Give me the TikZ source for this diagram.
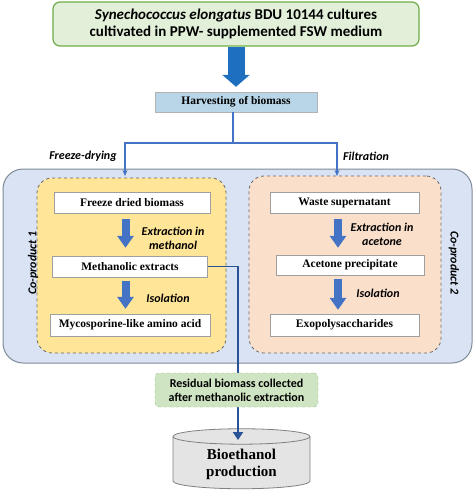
\documentclass[tikz,border=0pt]{standalone}
\usepackage{fontspec}
\setmainfont{Liberation Serif}
\newfontfamily\calibri{Carlito}
\usetikzlibrary{arrows.meta,shapes.geometric}

\definecolor{topfill}{HTML}{E2F0D9}
\definecolor{topline}{HTML}{70AD47}
\definecolor{harvfill}{HTML}{B8D6E8}
\definecolor{framefill}{HTML}{DAE3F3}
\definecolor{frameline}{HTML}{7F8A99}
\definecolor{yelfill}{HTML}{FFE597}
\definecolor{peachfill}{HTML}{FADFCB}
\definecolor{flowblue}{HTML}{4472C4}
\definecolor{bigblue}{HTML}{1F6FC1}
\definecolor{darkblue}{HTML}{2A5396}
\definecolor{resfill}{HTML}{CFE4C2}
\definecolor{resline}{HTML}{93B981}
\definecolor{cylfill}{HTML}{E4E4E4}

\begin{document}
\begin{tikzpicture}[x=1pt,y=-1pt,
  stagebox/.style={rectangle, draw=gray!75, fill=white, inner sep=0pt, minimum height=21pt,
    font=\bfseries\fontsize{11.5}{13}\selectfont},
  panel/.style={rectangle, rounded corners=15pt, dashed, draw=gray!80!black, line width=0.8pt},
  thickarrow/.style={draw=flowblue, line width=8pt, -{Triangle[width=16pt,length=12pt]}},
  flow/.style={draw=flowblue, line width=1.8pt},
  note/.style={font=\calibri\bfseries\itshape\fontsize{12}{14}\selectfont, align=center}]
\useasboundingbox (0,0) rectangle (474,492);

\node[rectangle, rounded corners=7pt, draw=topline, fill=topfill, line width=1.2pt,
  minimum width=366pt, minimum height=44pt, align=center,
  font=\calibri\bfseries\fontsize{15}{17}\selectfont] (culture) at (236,24)
  {\textit{Synechococcus elongatus} BDU 10144 cultures\\cultivated in PPW- supplemented FSW medium};
\node[rectangle, draw=gray!60, fill=harvfill, minimum width=162pt, minimum height=20pt,
  font=\bfseries\fontsize{11.5}{13}\selectfont] (harvest) at (236,102) {Harvesting of biomass};
\draw[bigblue, line width=17pt, -{Triangle[width=27pt,length=12pt]}, shorten >=5pt] (culture.south) -- (harvest.north);

\node[rectangle, rounded corners=20pt, draw=frameline, fill=framefill, line width=1pt,
  minimum width=469pt, minimum height=194pt] (frame) at (237.5,266) {};
\node[panel, fill=yelfill, minimum width=189pt, minimum height=175pt] (dried) at (131.5,265.5) {};
\node[panel, fill=peachfill, minimum width=192pt, minimum height=177pt] (filtered) at (345,264.5) {};

\node[stagebox, minimum width=156pt] (fdb) at (132,202.5) {Freeze dried biomass};
\node[stagebox, minimum width=155pt] (meth) at (130,266.5) {Methanolic extracts};
\node[stagebox, minimum width=160pt, minimum height=22pt] (maa) at (130,325) {Mycosporine-like amino acid};
\node[stagebox, minimum width=149pt] (waste) at (344.5,202.5) {Waste supernatant};
\node[stagebox, minimum width=148pt, minimum height=20pt] (acet) at (350,265) {Acetone precipitate};
\node[stagebox, minimum width=149pt, minimum height=22pt] (exo) at (344.5,325) {Exopolysaccharides};

\draw[thickarrow, shorten <=6pt, shorten >=8pt] ([xshift=-6.5pt]fdb.south) -- ([xshift=-6.5pt]fdb.south |- meth.north);
\draw[thickarrow, shorten <=4pt, shorten >=5pt] ([xshift=-4.5pt]meth.south) -- ([xshift=-4.5pt]meth.south |- maa.north);
\draw[thickarrow, shorten <=6pt, shorten >=7pt] ([xshift=-6.5pt]waste.south) -- ([xshift=-6.5pt]waste.south |- acet.north);
\draw[thickarrow, shorten <=4pt, shorten >=4pt] ([xshift=-12pt]acet.south) -- ([xshift=-12pt]acet.south |- exo.north);

\node[note] (ext1) at (173,238.5) {Extraction in\\methanol};
\node[note] (iso1) at (168,298) {Isolation};
\node[note] (ext2) at (382,234) {Extraction in\\acetone};
\node[note] (iso2) at (378,293.5) {Isolation};
\node[note, rotate=90] (cop1) at (33,263) {Co-product 1};
\node[note, rotate=-90] (cop2) at (454,263) {Co-product 2};
\node[note] (fd) at (83,156) {Freeze-drying};
\node[note] (fl) at (366,156) {Filtration};

\coordinate (fork) at (233,143);
\coordinate (fdin) at (125,176);
\coordinate (flin) at (337,176);
\draw[flow] (harvest.south -| fork) -- (fork);
\draw[flow, -{Stealth[length=6pt,width=5pt]}] (fork) -| (fdin);
\draw[flow, -{Stealth[length=6pt,width=5pt]}] (fork) -| (flin);

\node[cylinder, shape border rotate=90, aspect=0.2, draw=gray, fill=cylfill, line width=0.8pt,
  minimum width=137pt, minimum height=60pt, align=center,
  font=\bfseries\fontsize{15}{17}\selectfont] (bio) at (241.5,464) {Bioethanol\\production};
\coordinate (bioin) at (238,440);
\draw[darkblue, line width=1.8pt, -{Triangle[width=10pt,length=8pt]}] (meth.east) -| (bioin);

\node[rectangle, rounded corners=4pt, dashed, draw=resline, fill=resfill, minimum width=163pt,
  minimum height=34pt, align=center, font=\calibri\bfseries\fontsize{12}{14}\selectfont] (resid) at (236.5,390)
  {Residual biomass collected\\after methanolic extraction};
\end{tikzpicture}
\end{document}
